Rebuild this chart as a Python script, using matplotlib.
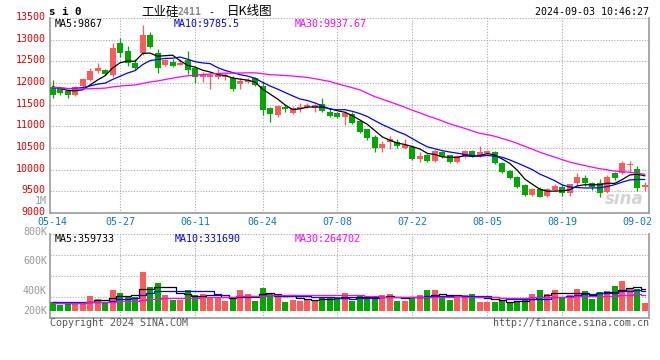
import numpy as np
import pandas as pd
import matplotlib
matplotlib.use("Agg")
import matplotlib.pyplot as plt
from matplotlib.ticker import FixedLocator, LinearLocator
from matplotlib.transforms import ScaledTranslation

# ---------------- data ----------------
may = [14, 15, 16, 17, 20, 21, 22, 23, 24, 27, 28, 29, 30, 31]
jun = [3, 4, 5, 6, 7, 11, 12, 13, 14, 17, 18, 19, 20, 21, 24, 25, 26, 27, 28]
jul = [1, 2, 3, 4, 5, 8, 9, 10, 11, 12, 15, 16, 17, 18, 19, 22, 23, 24, 25, 26, 29, 30, 31]
aug = [1, 2, 5, 6, 7, 8, 9, 12, 13, 14, 15, 16, 19, 20, 21, 22, 23, 26, 27, 28, 29, 30]
sep = [2, 3]
dates = ([f"05-{d:02d}" for d in may] + [f"06-{d:02d}" for d in jun] +
         [f"07-{d:02d}" for d in jul] + [f"08-{d:02d}" for d in aug] +
         [f"09-{d:02d}" for d in sep])

tick_dates = ["05-14", "05-27", "06-11", "06-24", "07-08", "07-22", "08-05", "08-19", "09-02"]
grid_dates = ["05-27", "06-11", "06-24", "07-08", "07-22", "08-05", "08-19"]

open_ = [11913, 11876, 11814, 11722, 11929, 12068, 12283, 12300, 12183, 12930,
         12738, 12468, 12685, 13107, 12685, 12415, 12490, 12415, 12530, 12338,
         12130, 12144, 12144, 12144, 12107, 11976, 12030, 12107, 11930, 11428,
         11260, 11452, 11313, 11390, 11452, 11415, 11513, 11337, 11300, 11222,
         11283, 11128, 10937, 10745, 10491, 10630, 10645, 10490, 10515, 10243,
         10336, 10197, 10400, 10330, 10180, 10300, 10420, 10320, 10380, 10400,
         10150, 9980, 9830, 9650, 9420, 9560, 9400, 9520, 9604, 9452,
         9682, 9798, 9697, 9683, 9490, 9914, 9914, 10101, 10006, 9604]
high = [12068, 11900, 11830, 11930, 12115, 12350, 12468, 12330, 12930, 13030,
        12854, 12545, 13338, 13183, 12780, 12560, 12560, 12545, 12738, 12400,
        12250, 12230, 12315, 12240, 12160, 12107, 12107, 12140, 12052, 11450,
        11490, 11490, 11475, 11544, 11544, 11510, 11660, 11410, 11337, 11360,
        11337, 11145, 10950, 10800, 10660, 10776, 10705, 10698, 10567, 10398,
        10370, 10460, 10440, 10350, 10340, 10460, 10450, 10550, 10460, 10420,
        10170, 10000, 9850, 9680, 9580, 9600, 9580, 9660, 9680, 9680,
        9927, 9870, 9720, 9775, 9870, 9950, 10200, 10207, 10075, 9720]
low = [11645, 11730, 11645, 11700, 11910, 12050, 12236, 12180, 12150, 12606,
       12400, 12300, 12650, 12800, 12223, 12400, 12380, 12415, 12200, 12006,
       12030, 11853, 12100, 12060, 11823, 11853, 11990, 11922, 11260, 11105,
       11220, 11340, 11290, 11330, 11430, 11330, 11337, 11205, 11183, 11029,
       11060, 10850, 10690, 10412, 10412, 10467, 10510, 10467, 10230, 10181,
       10181, 10180, 10280, 10160, 10160, 10280, 10290, 10300, 10360, 10130,
       9930, 9780, 9580, 9400, 9400, 9360, 9380, 9500, 9390, 9390,
       9650, 9620, 9530, 9359, 9460, 9760, 9890, 9953, 9500, 9510]
close = [11722, 11775, 11722, 11913, 12084, 12283, 12352, 12207, 12800, 12700,
         12468, 12338, 13107, 12838, 12338, 12530, 12400, 12468, 12300, 12130,
         12185, 12183, 12183, 12183, 11853, 12045, 12068, 11953, 11375, 11283,
         11475, 11390, 11415, 11452, 11490, 11490, 11360, 11237, 11222, 11314,
         11083, 10874, 10735, 10491, 10590, 10705, 10550, 10567, 10243, 10320,
         10197, 10420, 10300, 10180, 10320, 10420, 10300, 10400, 10420, 10150,
         9950, 9800, 9600, 9420, 9550, 9380, 9560, 9620, 9452, 9660,
         9835, 9697, 9604, 9466, 9835, 9812, 10145, 10125, 9567, 9643]
# closes of the sessions just before 05-14 (estimated from where the MA lines start)
closes_before = [12250, 12180, 12120, 12060, 12150, 12100, 12020, 11980, 12090, 12050,
                 12010, 12046, 11800, 11650, 11550, 11480, 11520, 11600, 11700, 11748,
                 11820, 11850, 11880, 11900, 11900, 11930, 11980, 11950, 11968]

volume = [155, 100, 128, 150, 155, 250, 200, 144, 349, 304,
          254, 238, 652, 403, 470, 266, 183, 183, 349, 266,
          282, 238, 211, 166, 194, 349, 282, 166, 387, 304,
          266, 155, 183, 172, 200, 183, 238, 216, 238, 304,
          172, 266, 210, 210, 266, 282, 172, 172, 238, 260,
          349, 349, 210, 183, 260, 266, 282, 155, 155, 155,
          172, 138, 172, 210, 282, 349, 282, 349, 210, 266,
          360, 332, 199, 315, 332, 415, 498, 387, 360, 138]  # thousands
volume_before = [130, 125, 135, 128, 132, 126, 131, 129, 133, 127,
                 130, 128, 134, 126, 131, 129, 132, 128, 130, 126,
                 150, 155, 160, 152, 158, 180, 170, 168, 102]  # thousands

price_ticks = [9000, 9500, 10000, 10500, 11000, 11500, 12000, 12500, 13000, 13500]
price_legend = ["MA5:9867", "MA10:9785.5", "MA30:9937.67"]
vol_legend = ["MA5:359733", "MA10:331690", "MA30:264702"]
vol_labels = ["1M", "800K", "600K", "400K", "200K"]

# ---------------- style ----------------
W, H = 660, 360
MONO = "DejaVu Sans Mono"
CJK = ["Noto Sans CJK SC", "DejaVu Sans"]
FS = 7.2
RED = "#ff5a5a"
GREEN = "#00a800"
GRID = "#a8a8a8"
SPINE = "#999999"
MA_COLORS = ["#000000", "#0000ff", "#ff00ff"]

plt.rcParams["font.family"] = [MONO]

fig = plt.figure(figsize=(W / 100, H / 100), dpi=100)
fig.patch.set_facecolor("white")


def ftext(x, y, s, **kw):
    kw.setdefault("va", "center")
    kw.setdefault("fontsize", FS)
    return fig.text(x / W, 1 - y / H, s, **kw)


ax = fig.add_axes([50 / W, 1 - 213 / H, 599 / W, 195 / H])
axv = fig.add_axes([50 / W, 1 - 318 / H, 599 / W, 84 / H])

n = len(dates)
x = np.arange(n)
o = np.array(open_, float)
h = np.array(high, float)
l = np.array(low, float)
c = np.array(close, float)
up = c >= o
cols = np.where(up, RED, GREEN)

# candles
ax.vlines(x, l, h, colors=cols, linewidth=0.9, zorder=3)
body_bottom = np.minimum(o, c)
body_h = np.maximum(np.abs(c - o), 18)
ax.bar(x, body_h, bottom=body_bottom, width=0.8, color=cols, linewidth=0, zorder=4)

# price moving averages
all_close = pd.Series(closes_before + close, dtype=float)
for win, col in zip([5, 10, 30], MA_COLORS):
    ma = all_close.rolling(win).mean().to_numpy()[-n:]
    ax.plot(x, ma, color=col, linewidth=0.9, zorder=5)

ax.set_xlim(-0.36, 79.57)
ax.set_ylim(9000, 13500)
ax.yaxis.set_major_locator(FixedLocator(price_ticks))
ax.set_yticklabels([str(t) for t in price_ticks])
tick_pos = [dates.index(d) for d in tick_dates]
ax.xaxis.set_major_locator(FixedLocator(tick_pos))
ax.set_xticklabels(tick_dates)
ax.tick_params(axis="y", length=0, pad=3, labelcolor="#e80000", labelsize=FS)
ax.tick_params(axis="x", length=0, pad=2.8, labelcolor="#0a78c8", labelsize=FS)
off = ScaledTranslation(0, 2 / 100, fig.dpi_scale_trans)
for lb in ax.get_yticklabels():
    lb.set_transform(lb.get_transform() + off)

ax.grid(False)
for yv in price_ticks:
    ax.axhline(yv, color=GRID, linewidth=0.8, linestyle=(0, (1, 1.5)), zorder=1)
for d in grid_dates:
    ax.axvline(dates.index(d), color=GRID, linewidth=0.8, linestyle=(0, (1, 1.5)), zorder=1)
for s in ["left", "right", "bottom"]:
    ax.spines[s].set_color(SPINE)
    ax.spines[s].set_linewidth(1.2)
ax.spines["top"].set_visible(False)

# volume
v = np.array(volume, float) * 1000
axv.bar(x, v, width=0.8, color=cols, linewidth=0, zorder=3)
all_vol = pd.Series(volume_before + volume, dtype=float) * 1000
for win, col in zip([5, 10, 30], MA_COLORS):
    mv = all_vol.rolling(win).mean().to_numpy()[-n:]
    axv.plot(x, mv, color=col, linewidth=0.9, drawstyle="steps-mid", zorder=5)
axv.set_xlim(-0.36, 79.57)
axv.set_ylim(-116e3, 1278e3)
axv.yaxis.set_major_locator(LinearLocator(5))
axv.set_yticklabels([])
axv.set_xticks([])
axv.tick_params(length=0)
for yv in axv.get_yticks()[1:]:
    axv.axhline(yv, color=GRID, linewidth=0.8, linestyle=(0, (1, 1.5)), zorder=1)
for d in grid_dates:
    axv.axvline(dates.index(d), color=GRID, linewidth=0.8, linestyle=(0, (1, 1.5)), zorder=1)
for s in ["left", "right", "bottom"]:
    axv.spines[s].set_color(SPINE)
    axv.spines[s].set_linewidth(1.2)
axv.spines["top"].set_visible(False)

# header
ftext(49, 12, "s i 0", fontsize=7.8, fontweight="bold", color="black")
ftext(141, 12, "工业硅", family=CJK, fontsize=9, color="black")
ftext(177, 12, "2411", color="#888888", fontweight="bold")
ftext(208, 12, "-", color="black")
ftext(227, 12, "日K线图", family=CJK, fontsize=9, color="black")
ftext(649, 12, "2024-09-03 10:46:27", ha="right", color="black")

# legends
for s, xx, col in zip(price_legend, [55, 174, 295], MA_COLORS):
    ftext(xx, 24, s, color=col)
for s, xx, col in zip(vol_legend, [55, 175, 295], MA_COLORS):
    ftext(xx, 238.5, s, color=col)

# volume axis labels
for s, yy in zip(vol_labels, [201, 231.5, 261, 291, 311]):
    ftext(47, yy, s, ha="right", color="#999999")

# footer
ftext(50, 323.5, "Copyright 2024 SINA.COM", color="#555555")
ftext(649, 323.5, "http://finance.sina.com.cn", ha="right", color="#555555")

# watermark
ftext(624, 199, "sina", family="DejaVu Sans", fontsize=12, fontweight="bold",
      style="italic", color="#d4d4d4", ha="center")

fig.savefig("out.png", dpi=100)
